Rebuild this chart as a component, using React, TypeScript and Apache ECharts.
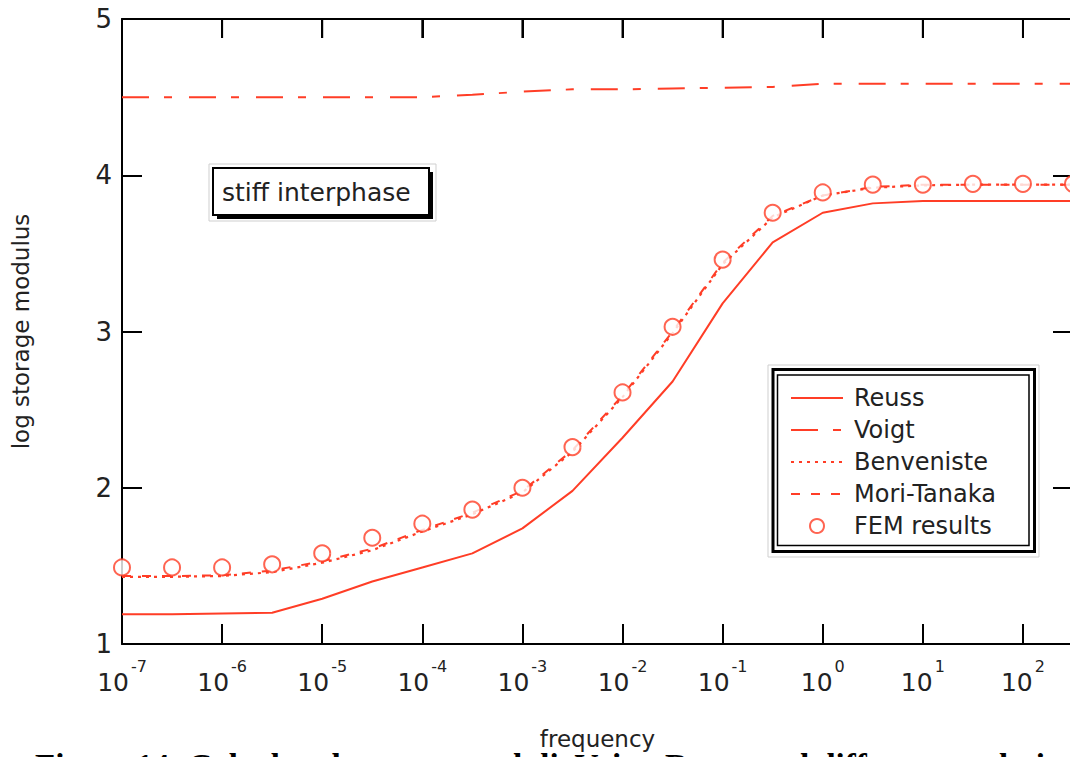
import React, { useEffect, useRef } from "react";
import * as echarts from "echarts";

// frequency points (half-decade steps)
const frequency = [
  1e-7, 3.162e-7, 1e-6, 3.162e-6, 1e-5, 3.162e-5, 1e-4, 3.162e-4, 1e-3, 3.162e-3,
  1e-2, 3.162e-2, 1e-1, 3.162e-1, 1, 3.162, 10, 31.62, 100, 316.2,
];
const reuss = [1.19, 1.19, 1.195, 1.2, 1.29, 1.4, 1.49, 1.58, 1.74, 1.98, 2.32, 2.68, 3.18, 3.57, 3.76, 3.82, 3.835, 3.835, 3.835, 3.835];
const voigt = [4.5, 4.5, 4.5, 4.5, 4.5, 4.5, 4.5, 4.515, 4.535, 4.55, 4.55, 4.555, 4.56, 4.565, 4.585, 4.585, 4.585, 4.585, 4.585, 4.585];
const benveniste = [1.43, 1.43, 1.435, 1.46, 1.52, 1.6, 1.72, 1.83, 1.97, 2.23, 2.58, 2.99, 3.43, 3.73, 3.87, 3.92, 3.935, 3.94, 3.94, 3.94];
const moriTanaka = [1.435, 1.435, 1.44, 1.47, 1.53, 1.61, 1.73, 1.84, 1.98, 2.24, 2.59, 3.0, 3.44, 3.74, 3.87, 3.925, 3.94, 3.94, 3.94, 3.94];
const femResults = [1.49, 1.49, 1.49, 1.51, 1.58, 1.68, 1.77, 1.86, 2.0, 2.26, 2.61, 3.03, 3.46, 3.76, 3.89, 3.94, 3.94, 3.945, 3.945, 3.945];
const seriesNames = ["Reuss", "Voigt", "Benveniste", "Mori-Tanaka", "FEM results"];
const yTicks = [1, 2, 3, 4, 5];
// decade tick positions mirrored on the top frame
const topTickFrequencies = [1e-6, 1e-5, 1e-4, 1e-3, 1e-2, 1e-1, 1, 10, 100];
const decadeMin = -7;
const decadeMax = 2.5;

const RED = "#ff3d26";
const FONT = '"DejaVu Sans", sans-serif';
const TXT = "#222";

const pair = (ys: number[]) => frequency.map((f, i) => [f, ys[i]]);

export default function App() {
  const ref = useRef<HTMLDivElement>(null);
  useEffect(() => {
    const chart = echarts.init(ref.current!, null, { renderer: "svg" });
    const xFormatter = (v: number) => {
      const e = Math.log10(v);
      const r = Math.round(e);
      if (Math.abs(e - r) > 1e-6) return "";
      return `{b|10}{s|${r}}`;
    };
    const yTop = yTicks[yTicks.length - 1];
    const lineSeries = (name: string, data: number[], type: any, width = 2) => ({
      name,
      type: "line",
      data: pair(data),
      symbol: "none",
      lineStyle: { color: RED, width, type },
      itemStyle: { color: RED },
      z: 3,
    });
    const tickStyle = { color: "#000", width: 2 };
    const axisLine = { show: true, onZero: false, lineStyle: { color: "#000", width: 2 } };
    const baseGraphics: any[] = [
      { type: "rect", z: 10, shape: { x: 209, y: 164, width: 227, height: 57 }, style: { fill: "#fff", stroke: "#cfcfcf", lineWidth: 1 } },
      { type: "rect", z: 11, shape: { x: 217, y: 172, width: 216, height: 47 }, style: { fill: "#000" } },
      { type: "rect", z: 12, shape: { x: 213, y: 168, width: 216, height: 47 }, style: { fill: "#fff", stroke: "#000", lineWidth: 2 } },
      { type: "text", z: 13, x: 222, y: 192, style: { text: "stiff interphase", fontFamily: FONT, fontSize: 25, fill: TXT, verticalAlign: "middle" } },
      { type: "rect", z: 10, shape: { x: 768, y: 365, width: 271, height: 192 }, style: { fill: "#fff", stroke: "#cfcfcf", lineWidth: 1 } },
      { type: "rect", z: 11, shape: { x: 773, y: 369.5, width: 261.5, height: 182 }, style: { fill: "none", stroke: "#000", lineWidth: 3 } },
      { type: "rect", z: 11, shape: { x: 777.5, y: 375, width: 251.5, height: 170.5 }, style: { fill: "none", stroke: "#000", lineWidth: 1.5 } },
      {
        type: "text",
        z: 13,
        x: 35,
        y: 749,
        style: {
          text: "Figure 14: Calculated storage moduli. Voigt, Reuss and different analytical estimates",
          font: 'bold 33px "Liberation Serif", serif',
          fill: "#000",
        },
      },
    ];
    chart.setOption({
      animation: false,
      backgroundColor: "#fff",
      grid: { left: 122, top: 19, width: 951, height: 625 },
      xAxis: [
        {
          type: "log",
          logBase: 10,
          min: 1e-7,
          max: 316.2278,
          position: "bottom",
          name: "frequency",
          nameLocation: "middle",
          nameGap: 83,
          nameTextStyle: { fontFamily: FONT, fontSize: 23, color: TXT },
          axisLine,
          axisTick: { show: true, inside: true, length: 20, lineStyle: tickStyle },
          splitLine: { show: false },
          minorTick: { show: false },
          axisLabel: {
            margin: 14,
            formatter: xFormatter,
            rich: {
              b: { fontFamily: FONT, fontSize: 25, color: TXT, lineHeight: 48, verticalAlign: "middle" },
              s: { fontFamily: FONT, fontSize: 16, color: TXT, lineHeight: 14, verticalAlign: "top", padding: [0, 0, 0, 2] },
            },
          },
        },
        {
          type: "value",
          min: decadeMin,
          max: decadeMax,
          interval: 1,
          position: "top",
          axisLine,
          axisTick: { show: true, inside: true, length: 19, lineStyle: tickStyle },
          axisLabel: { show: false },
          splitLine: { show: false },
        },
      ],
      yAxis: [
        {
          type: "value",
          min: yTicks[0],
          max: yTop,
          interval: 1,
          position: "left",
          name: "log storage modulus",
          nameLocation: "middle",
          nameGap: 90,
          nameTextStyle: { fontFamily: FONT, fontSize: 23, color: TXT },
          axisLine,
          axisTick: { show: true, inside: true, length: 20, lineStyle: tickStyle },
          axisLabel: { margin: 10, fontFamily: FONT, fontSize: 26, color: TXT },
          splitLine: { show: false },
        },
        {
          type: "value",
          min: yTicks[0],
          max: yTop,
          interval: 1,
          position: "right",
          axisLine,
          axisTick: { show: true, inside: true, length: 20, lineStyle: tickStyle },
          axisLabel: { show: false },
          splitLine: { show: false },
        },
      ],
      legend: {
        orient: "vertical",
        left: 785,
        top: 381,
        itemWidth: 52,
        itemHeight: 14,
        itemGap: 8,
        selectedMode: false,
        z: 20,
        data: seriesNames.map((name, i) =>
          i < 4 ? { name, itemStyle: { opacity: 0 } } : { name }
        ),
        textStyle: { fontFamily: FONT, fontSize: 24, lineHeight: 24, color: TXT, padding: [0, 0, 0, 6] },
      },
      graphic: baseGraphics,
      series: [
        lineSeries(seriesNames[0], reuss, "solid", 2),
        lineSeries(seriesNames[1], voigt, [27, 15, 8, 17], 2),
        lineSeries(seriesNames[2], benveniste, [3, 5], 2.2),
        lineSeries(seriesNames[3], moriTanaka, [9, 11], 2),
        {
          name: seriesNames[4],
          type: "scatter",
          data: pair(femResults),
          symbol: "emptyCircle",
          symbolSize: 16,
          itemStyle: { color: RED, borderColor: RED, borderWidth: 2 },
          z: 4,
        },
      ],
    });
    // mirrored decade ticks on the top frame, placed through the chart's own scales
    try {
      const tickLines: any[] = [];
      topTickFrequencies.forEach((f) => {
        const p = chart.convertToPixel({ xAxisIndex: 0, yAxisIndex: 0 }, [f, yTop]) as any;
        if (p && isFinite(p[0]) && isFinite(p[1])) {
          tickLines.push({
            type: "line",
            z: 30,
            shape: { x1: p[0], y1: p[1], x2: p[0], y2: p[1] + 19 },
            style: { stroke: "#000", lineWidth: 2 },
          });
        }
      });
      if (tickLines.length) chart.setOption({ graphic: [...baseGraphics, ...tickLines] });
    } catch (e) {
      // keep the chart as is
    }
    return () => chart.dispose();
  }, []);
  return (
    <div style={{ position: "fixed", left: 0, top: 0, width: 1070, height: 757, overflow: "hidden", background: "#fff" }}>
      <div ref={ref} style={{ width: 1180, height: 800 }} />
    </div>
  );
}
